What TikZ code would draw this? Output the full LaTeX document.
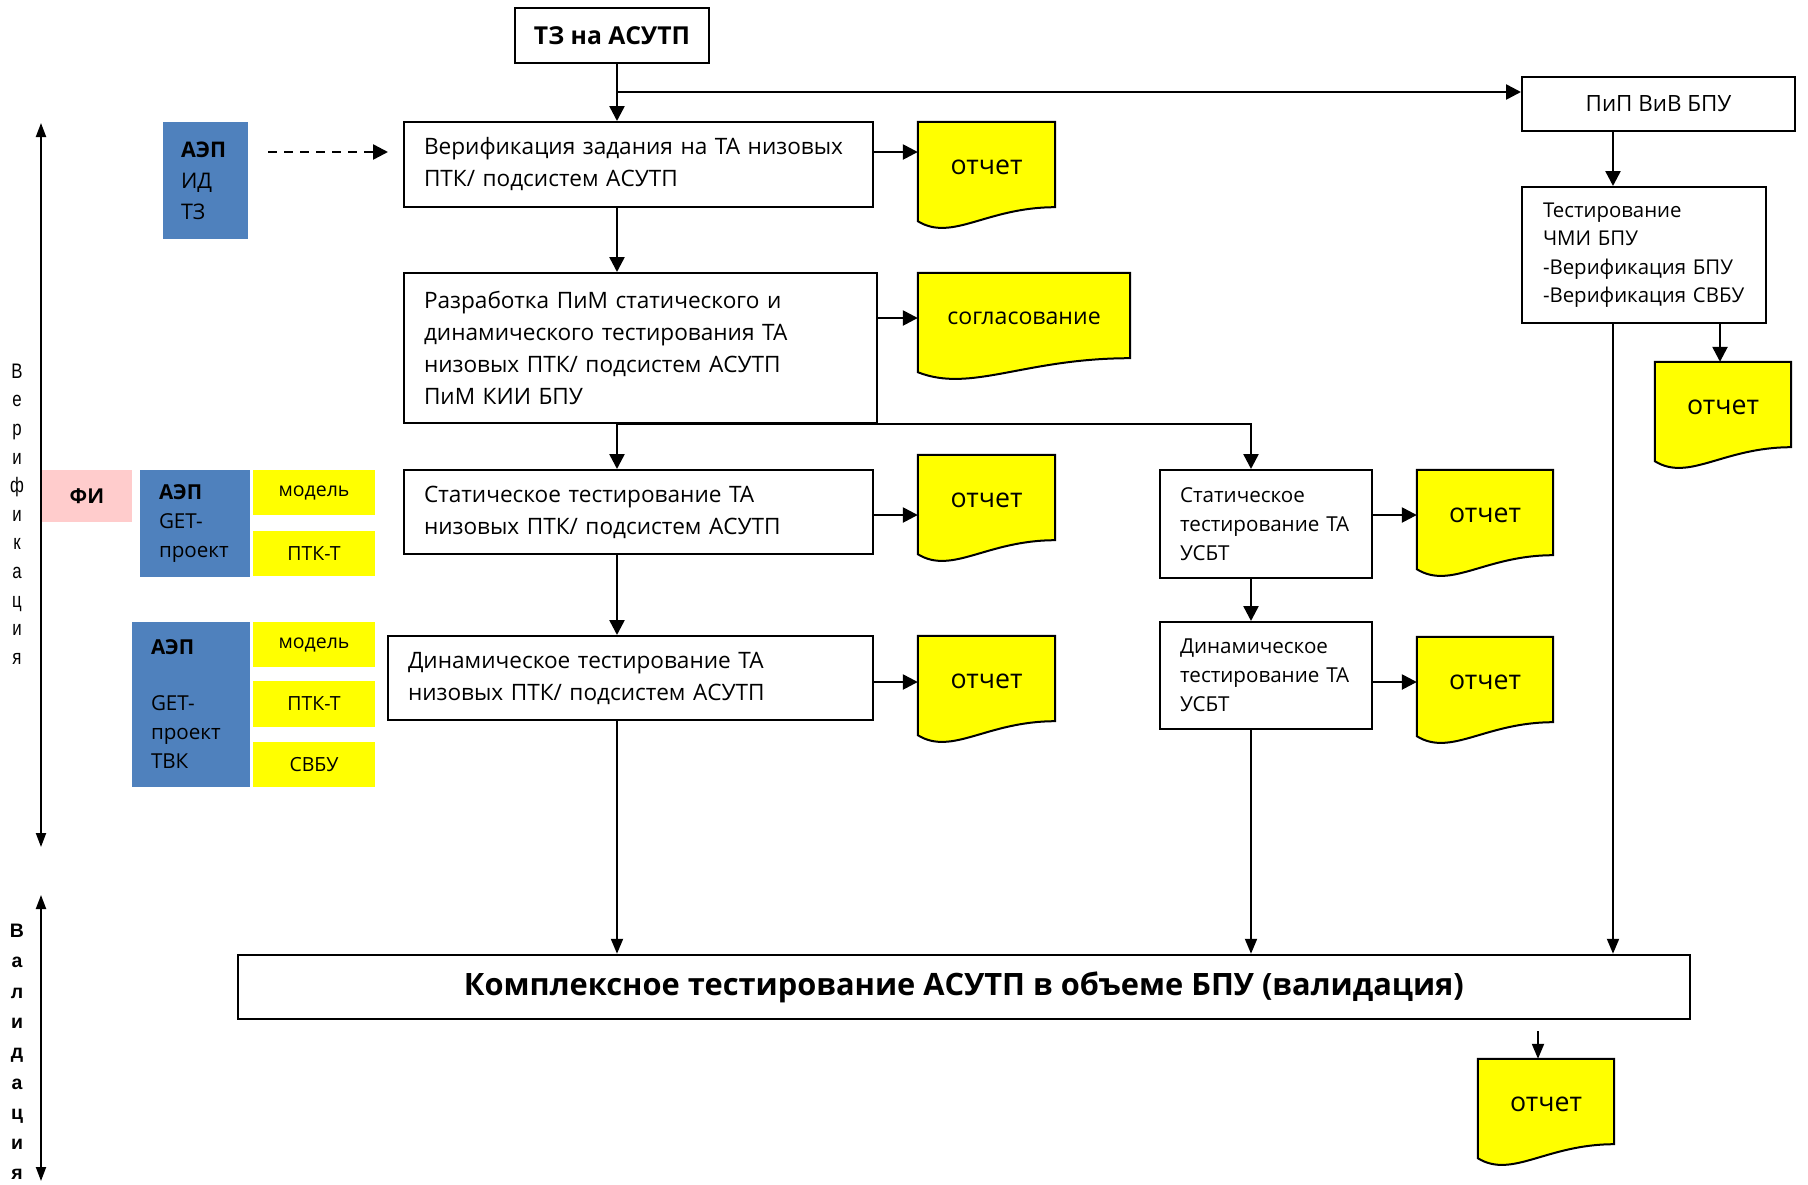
\documentclass[tikz,border=0pt]{standalone}
\usepackage{fontspec}
\setmainfont{Open Sans}
\newfontfamily\arialf{Liberation Sans}
\usetikzlibrary{arrows.meta,calc,backgrounds}
\definecolor{aepblue}{HTML}{4F81BD}
\definecolor{docyellow}{HTML}{FFFF00}
\definecolor{fipink}{HTML}{FFCCCC}
\newcommand\docwave[1]{%
  \draw[docline] (#1.north west) -- (#1.north east) -- ([yshift=5pt]#1.south east)
   .. controls ($(#1.south)+(0pt,5pt)$) and ($(#1.south west)!0.25!(#1.south east)+(0pt,-30pt)$) ..
   ([yshift=-9pt]#1.south west) -- cycle;}
\begin{document}
\begin{tikzpicture}[x=1pt,y=-1pt,
  box/.style={draw, line width=2pt, fill=white, inner xsep=20pt, inner ysep=0pt, align=left,
    font=\fontsize{22.6}{32}\selectfont},
  cbox/.style={draw, line width=2pt, fill=white, inner sep=0pt, align=center},
  doc/.style={inner sep=0pt, minimum height=90pt, font=\fontsize{26.7}{30}\selectfont},
  docline/.style={draw=black, line width=2pt, fill=docyellow},
  bluebox/.style={fill=aepblue, inner ysep=0pt, align=left},
  ybox/.style={fill=docyellow, inner sep=0pt, minimum width=122pt, font=\fontsize{19.5}{22}\selectfont},
  arr/.style={line width=2.5pt, -{Triangle[length=15pt,width=15pt]}},
  thinarr/.style={line width=2pt, -{Triangle[length=15pt,width=12pt]}},
  dblarr/.style={line width=2pt, {Triangle[length=14pt,width=10pt]}-{Triangle[length=14pt,width=10pt]}},
  dasharr/.style={line width=2.5pt, dash pattern=on 9pt off 7pt, -{Triangle[length=15pt,width=15pt]}}
]
\useasboundingbox (0,0) rectangle (1808,1184);

% ---------- main column ----------
\node[cbox, minimum width=194pt, minimum height=55pt, font=\bfseries\fontsize{24.7}{28}\selectfont] (tz) at (612,35.5) {ТЗ на АСУТП};
\node[cbox, minimum width=273pt, minimum height=54pt, font=\fontsize{22.4}{26}\selectfont] (pip) at (1658.5,104) {ПиП ВиВ БПУ};

\node[box, text width=429pt, minimum height=85pt] (ver) at (638.5,164.5)
  {Верификация задания на ТА низовых\\ПТК/ подсистем АСУТП};
\node[box, text width=433pt, minimum height=150pt] (raz) at (640.5,348)
  {Разработка ПиМ статического и\\динамического тестирования ТА\\низовых ПТК/ подсистем АСУТП\\ПиМ КИИ БПУ};
\node[box, text width=429pt, minimum height=84pt] (stat) at (638.5,512)
  {Статическое тестирование ТА\\низовых ПТК/ подсистем АСУТП};
\node[box, text width=445pt, minimum height=84pt] (dyn) at (630.5,678)
  {Динамическое тестирование ТА\\низовых ПТК/ подсистем АСУТП};

\node[box, text width=172pt, minimum height=108pt, font=\fontsize{20.6}{29}\selectfont] (ustat) at (1266,524)
  {Статическое\\тестирование ТА\\УСБТ};
\node[box, text width=172pt, minimum height=107pt, font=\fontsize{20.6}{29}\selectfont] (udyn) at (1266,675.5)
  {Динамическое\\тестирование ТА\\УСБТ};

\node[box, inner xsep=21pt, text width=202pt, minimum height=136pt, font=\fontsize{20.4}{28.5}\selectfont] (chmi) at (1644,255)
  {Тестирование\\ЧМИ БПУ\\-Верификация БПУ\\-Верификация СВБУ};

\node[cbox, line width=2.5pt, minimum width=1452pt, minimum height=64pt, font=\bfseries\fontsize{30.8}{36}\selectfont] (kompl) at (964,987)
  {Комплексное тестирование АСУТП в объеме БПУ (валидация)};

% ---------- documents ----------
\node[doc, minimum width=137pt] (doc1) at (986.5,167) {отчет};
\node[doc, minimum width=212pt, font=\fontsize{23.1}{26}\selectfont] (sogl) at (1024,318) {согласование};
\node[doc, minimum width=137pt] (doc2) at (986.5,500) {отчет};
\node[doc, minimum width=137pt] (doc3) at (986.5,681) {отчет};
\node[doc, minimum width=136pt] (doc4) at (1485,515) {отчет};
\node[doc, minimum width=136pt] (doc5) at (1485,682) {отчет};
\node[doc, minimum width=136pt] (doc6) at (1723,407) {отчет};
\node[doc, minimum width=136pt] (doc7) at (1546,1104) {отчет};
\begin{scope}[on background layer]
  \docwave{doc1}\docwave{sogl}\docwave{doc2}\docwave{doc3}
  \docwave{doc4}\docwave{doc5}\docwave{doc6}\docwave{doc7}
\end{scope}

% ---------- left side boxes ----------
\node[bluebox, inner xsep=18pt, text width=49pt, minimum height=117pt, font=\fontsize{21.5}{31}\selectfont] (aep1) at (205.5,180.5)
  {\textbf{АЭП}\\ИД\\ТЗ};
\node[fill=fipink, inner sep=0pt, minimum width=90pt, minimum height=52pt, font=\bfseries\fontsize{20.5}{24}\selectfont] (fi) at (87,496) {ФИ};
\node[bluebox, inner xsep=19pt, text width=72pt, minimum height=107pt, font=\fontsize{20.6}{29}\selectfont] (aep2) at (195,523.5)
  {\textbf{АЭП}\\GET-\\проект};
\node[ybox, minimum height=45pt] (m1) at (314,492.5) {модель};
\node[ybox, minimum height=45pt] (p1) at (314,553.5) {ПТК-Т};
\node[bluebox, inner xsep=19pt, text width=80pt, minimum height=165pt, font=\fontsize{20.6}{29}\selectfont] (aep3) at (191,704.5)
  {\textbf{АЭП}\\[27pt]GET-\\проект\\ТВК};
\node[ybox, minimum height=45pt] (m2) at (314,644.5) {модель};
\node[ybox, minimum height=46pt] (p2) at (314,704) {ПТК-Т};
\node[ybox, minimum height=45pt] (s2) at (314,764.5) {СВБУ};

% ---------- vertical labels ----------
\node[inner sep=0pt, align=center, xscale=0.8, transform shape, text=black,
  font=\arialf\fontsize{21}{28.6}\selectfont] (vlab) at (17,514) {В\\е\\р\\и\\ф\\и\\к\\а\\ц\\и\\я};
\node[inner sep=0pt, align=center, font=\arialf\bfseries\fontsize{19.5}{30.3}\selectfont] (vallab) at (17,1052) {В\\а\\л\\и\\д\\а\\ц\\и\\я};
\coordinate (va1) at (41,123);
\coordinate (va2) at (41,847);
\coordinate (vb1) at (41,895);
\coordinate (vb2) at (41,1181);
\draw[dblarr] (va1) -- (va2);
\draw[dblarr] (vb1) -- (vb2);

% ---------- helper coordinates ----------
\coordinate (xm) at (617,92);   % main column / top branch
\coordinate (xu) at (1251,424); % right column / branch
\coordinate (xr) at (1613,0);
\coordinate (xd) at (1720,0);
\coordinate (xe) at (1538,0);
\coordinate (y1) at (0,152);
\coordinate (y2) at (0,318);
\coordinate (y3) at (0,515);
\coordinate (y4) at (0,682);
\coordinate (bj) at (617,424);

% ---------- connectors ----------
\draw[arr] (tz.south -| xm) -- (ver.north -| xm);
\draw[arr] (xm) -- (pip.west |- xm);
\draw[dasharr] ([xshift=20pt]aep1.east |- y1) -- ([xshift=-15pt]ver.west |- y1);
\draw[arr] (ver.east |- y1) -- (doc1.west |- y1);
\draw[arr] (ver.south -| xm) -- (raz.north -| xm);
\draw[arr] (raz.east |- y2) -- (sogl.west |- y2);
\draw[arr] (raz.south -| xm) -- (stat.north -| xm);
\draw[arr] (bj) -| (ustat.north -| xu);
\draw[arr] (stat.east |- y3) -- (doc2.west |- y3);
\draw[arr] (stat.south -| xm) -- (dyn.north -| xm);
\draw[arr] (dyn.east |- y4) -- (doc3.west |- y4);
\draw[thinarr] (dyn.south -| xm) -- (kompl.north -| xm);
\draw[arr] (ustat.east |- y3) -- (doc4.west |- y3);
\draw[arr] (ustat.south -| xu) -- (udyn.north -| xu);
\draw[arr] (udyn.east |- y4) -- (doc5.west |- y4);
\draw[thinarr] (udyn.south -| xu) -- (kompl.north -| xu);
\draw[arr] (pip.south -| xr) -- (chmi.north -| xr);
\draw[arr] (chmi.south -| xd) -- (doc6.north -| xd);
\draw[thinarr] (chmi.south -| xr) -- (kompl.north -| xr);
\draw[thinarr] ([yshift=-11pt]kompl.south -| xe) -- (doc7.north -| xe);
\end{tikzpicture}
\end{document}
